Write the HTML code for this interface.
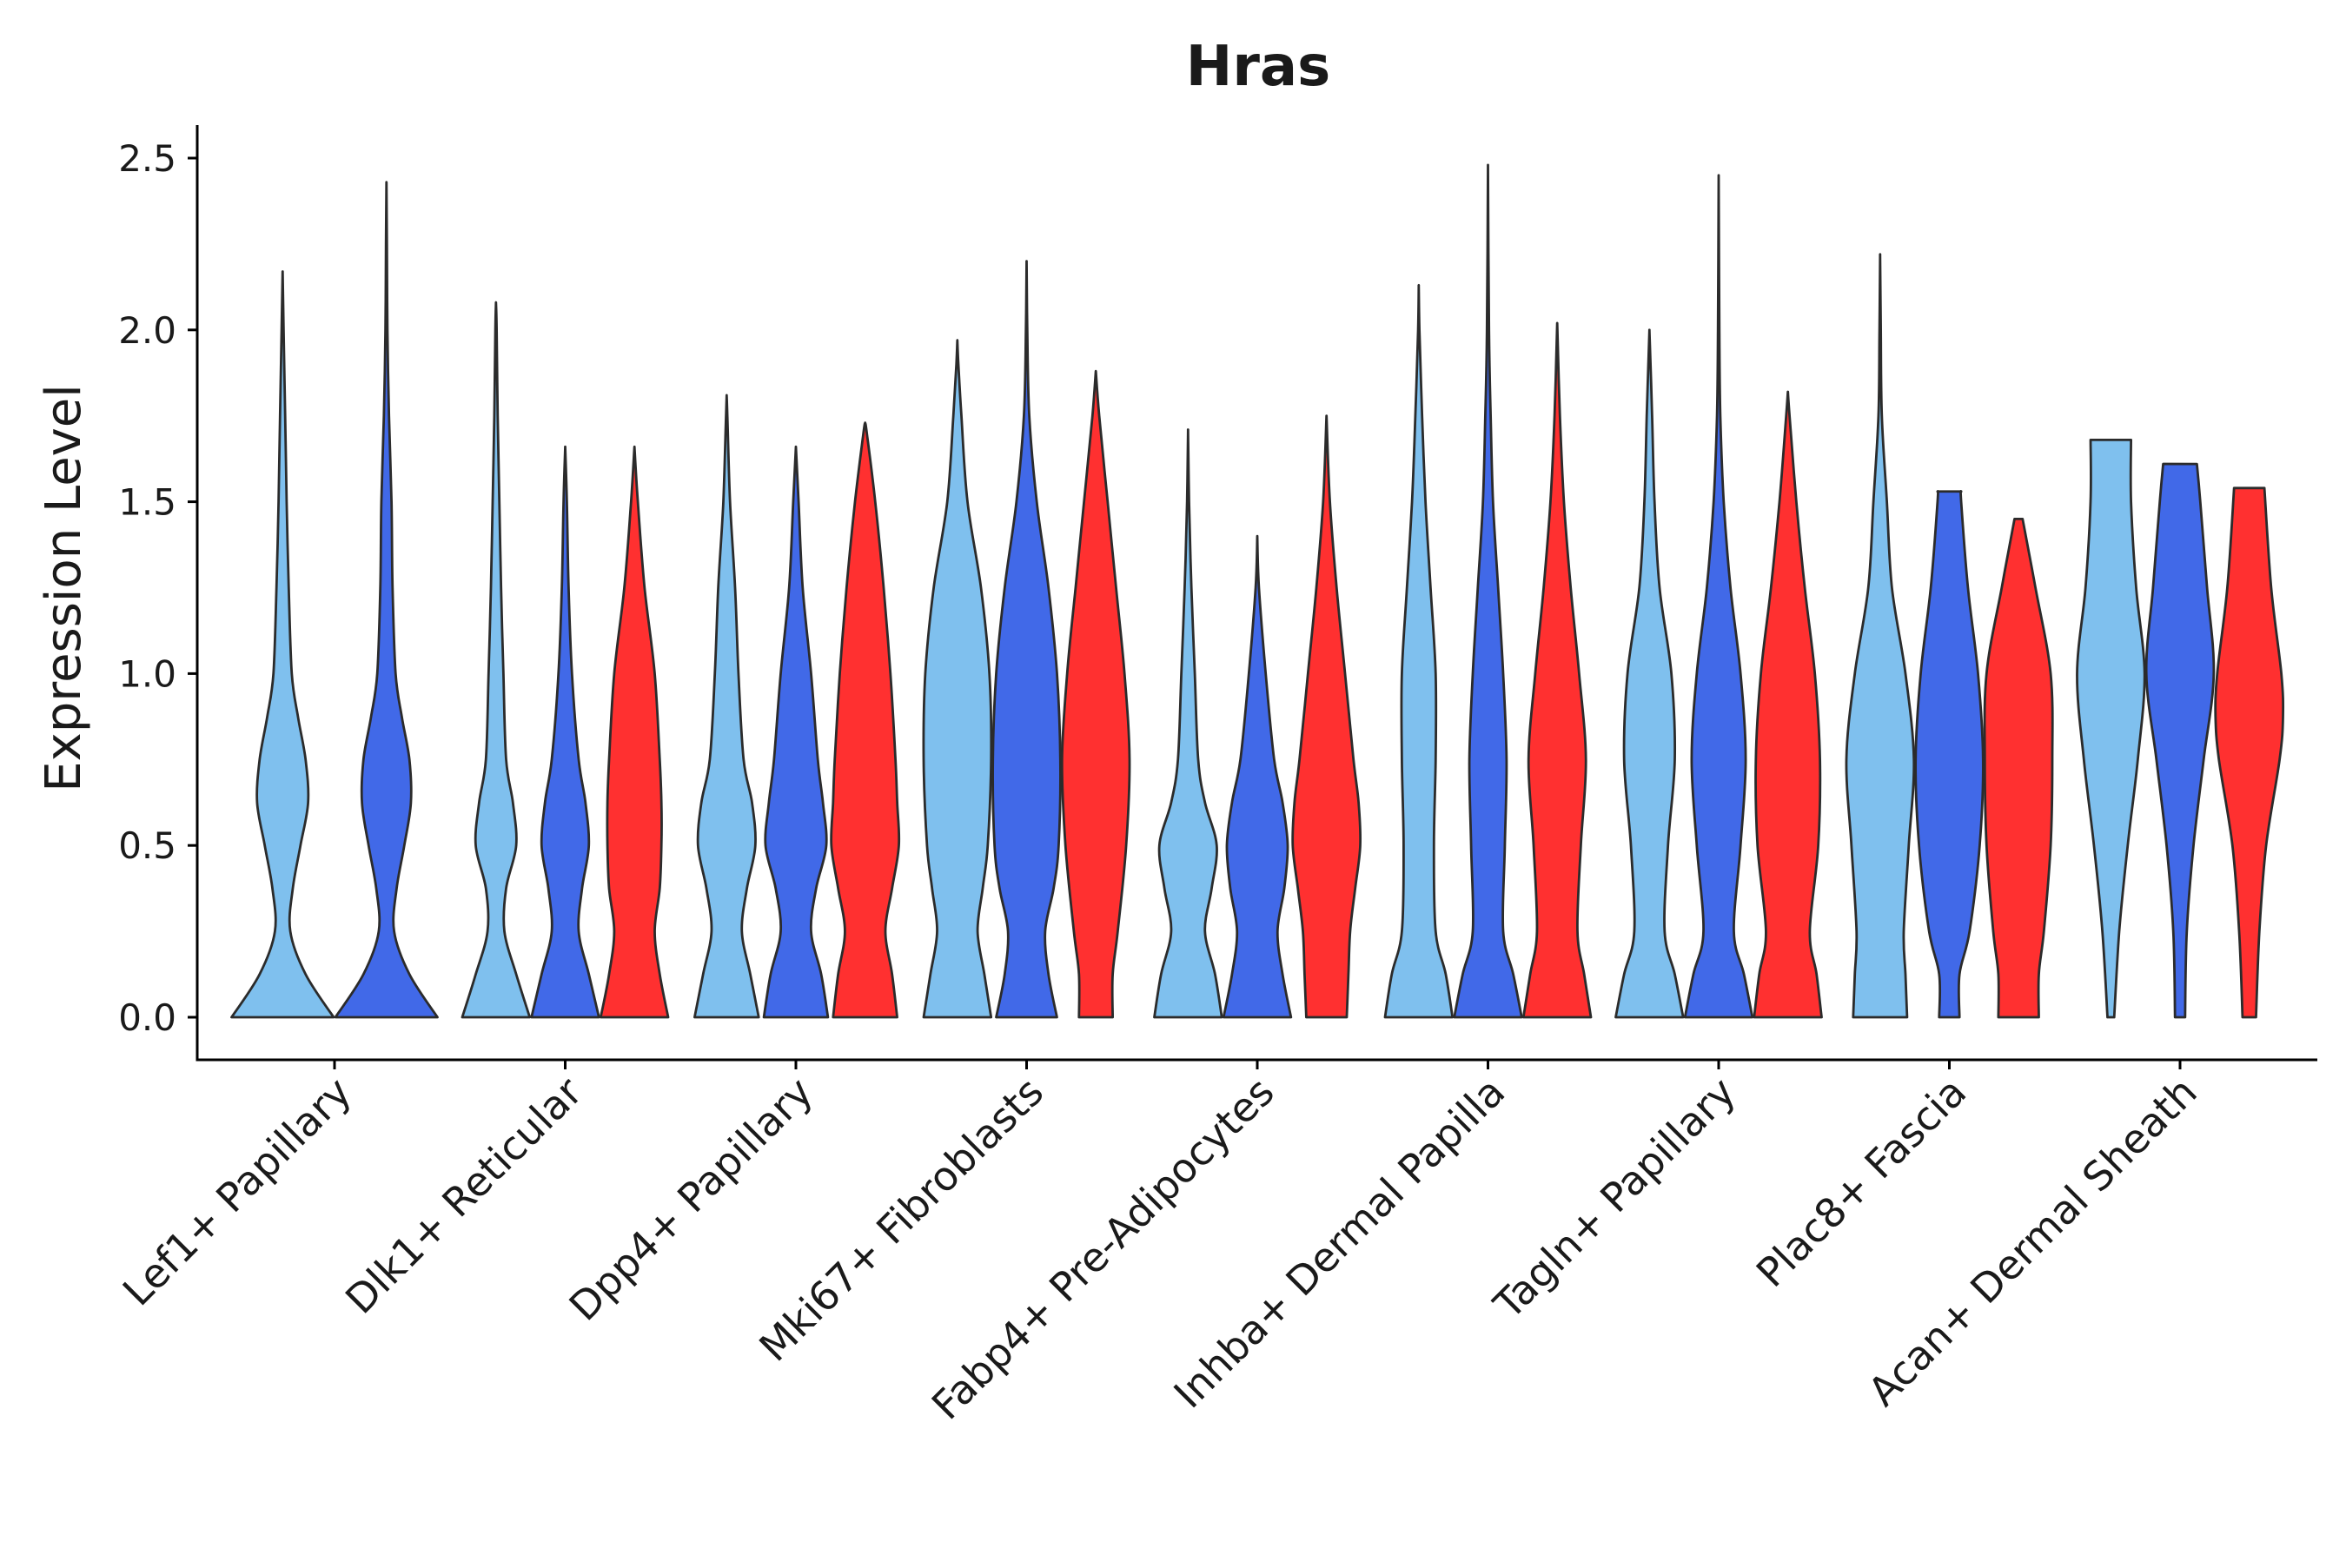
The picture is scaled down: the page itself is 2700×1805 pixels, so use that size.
<!DOCTYPE html>
<html><head><meta charset="utf-8"><style>
html,body{margin:0;padding:0;background:#fff;}
svg text{font-family:"DejaVu Sans","Liberation Sans",sans-serif;fill:#1a1a1a;}
</style></head><body>
<svg id="chart" width="2700" height="1800" viewBox="0 0 2700 1800" xmlns="http://www.w3.org/2000/svg">
<text x="1448" y="98" text-anchor="middle" font-size="64" font-weight="bold">Hras</text>
<text transform="translate(92,677) rotate(-90)" text-anchor="middle" font-size="56">Expression Level</text>
<g id="plot"></g>
</svg>
<script>
const categories = ["Lef1+ Papillary","Dlk1+ Reticular","Dpp4+ Papillary","Mki67+ Fibroblasts","Fabp4+ Pre-Adipocytes","Inhba+ Dermal Papilla","Tagln+ Papillary","Plac8+ Fascia","Acan+ Dermal Sheath"];
const yTicks = [0, 0.5, 1.0, 1.5, 2.0, 2.5];
const yTickLabels = ["0.0","0.5","1.0","1.5","2.0","2.5"];
const seriesNames = ["light","blue","red"];
const seriesColors = ["#7FC0EE","#4169E8","#FF3030"];
const violinCat = [0,0,1,1,1,2,2,2,3,3,3,4,4,4,5,5,5,6,6,6,7,7,7,8,8,8];
const violinSeries = [0,1,0,1,2,0,1,2,0,1,2,0,1,2,0,1,2,0,1,2,0,1,2,0,1,2];
const violinY = [
 [0,.125,.25,.375,.5,.625,.75,.875,1,1.25,1.5,1.75,2,2.17],
 [0,.125,.25,.375,.5,.625,.75,.875,1,1.25,1.5,1.75,2,2.25,2.43],
 [0,.125,.25,.375,.5,.625,.75,1,1.25,1.5,1.75,2,2.08],
 [0,.125,.25,.375,.5,.625,.75,1,1.25,1.5,1.66],
 [0,.125,.25,.375,.5,.625,.75,1,1.25,1.5,1.66],
 [0,.125,.25,.375,.5,.625,.75,1,1.25,1.5,1.75,1.81],
 [0,.125,.25,.375,.5,.625,.75,1,1.25,1.5,1.66],
 [0,.125,.25,.375,.5,.625,.75,1,1.25,1.5,1.7,1.73],
 [0,.125,.25,.375,.5,.75,1,1.25,1.5,1.75,1.9,1.97],
 [0,.125,.25,.375,.5,.75,1,1.25,1.5,1.75,2,2.2],
 [0,.125,.25,.5,.75,1,1.25,1.5,1.75,1.88],
 [0,.125,.25,.375,.5,.625,.75,1,1.25,1.5,1.71],
 [0,.125,.25,.375,.5,.625,.75,1,1.25,1.4],
 [0,.125,.25,.375,.5,.625,.75,1,1.25,1.5,1.75],
 [0,.125,.25,.5,.75,1,1.25,1.5,1.75,2,2.13],
 [0,.125,.25,.5,.75,1,1.25,1.5,1.75,2,2.48],
 [0,.125,.25,.5,.75,1,1.25,1.5,1.75,2.02],
 [0,.125,.25,.5,.75,1,1.25,1.5,1.75,2.0],
 [0,.125,.25,.5,.75,1,1.25,1.5,1.75,2,2.45],
 [0,.125,.25,.5,.75,1,1.25,1.5,1.75,1.82],
 [0,.125,.25,.5,.75,1,1.25,1.5,1.75,2,2.22],
 [0,.125,.25,.5,.75,1,1.25,1.5,1.53],
 [0,.125,.25,.5,.75,1,1.25,1.45],
 [0,.25,.5,.75,1,1.25,1.5,1.68],
 [0,.25,.5,.75,1,1.25,1.5,1.61],
 [0,.25,.5,.75,.875,1,1.25,1.54]
];
const violinW = [
 [1,.45,.15,.2,.35,.5,.45,.3,.18,.12,.08,.05,.02,0],
 [1,.45,.15,.2,.35,.48,.45,.3,.18,.12,.1,.05,.02,.01,0],
 [1,.6,.25,.3,.6,.5,.3,.22,.15,.1,.05,.02,0],
 [1,.7,.4,.5,.7,.6,.4,.2,.1,.05,0],
 [1,.75,.6,.75,.8,.8,.75,.6,.3,.1,0],
 [.95,.7,.45,.6,.85,.75,.5,.35,.25,.1,.02,0],
 [.95,.75,.45,.6,.9,.8,.65,.45,.2,.08,0],
 [.95,.8,.6,.8,1,.95,.9,.75,.55,.3,.05,0],
 [1,.8,.6,.75,.9,1,.95,.7,.3,.12,.03,0],
 [.9,.65,.55,.8,.95,1,.9,.65,.3,.08,.02,0],
 [.5,.5,.65,.9,1,.85,.6,.35,.1,0],
 [1,.8,.5,.7,.85,.5,.3,.2,.1,.03,0],
 [1,.75,.6,.8,.9,.75,.5,.25,.05,0],
 [.6,.65,.7,.85,1,.95,.8,.55,.3,.1,0],
 [1,.8,.5,.45,.5,.5,.35,.2,.1,.02,0],
 [1,.75,.45,.5,.55,.45,.3,.15,.08,.03,0],
 [1,.8,.6,.7,.85,.65,.4,.2,.08,0],
 [1,.75,.45,.55,.75,.65,.3,.15,.08,0],
 [1,.75,.45,.65,.8,.65,.35,.15,.05,.02,0],
 [1,.85,.65,.9,.95,.8,.5,.25,.05,0],
 [.8,.75,.7,.85,1,.75,.35,.2,.05,.02,0],
 [.3,.3,.6,.9,1,.85,.55,.35,.35],
 [.6,.6,.75,.95,1,.95,.5,.12],
 [.1,.25,.5,.8,1,.75,.6,.6],
 [.15,.2,.4,.7,1,.8,.6,.5],
 [.2,.3,.5,.9,1,.95,.65,.45]
];

const NS="http://www.w3.org/2000/svg";
const plot=document.getElementById('plot');
const x0=227, x1=2667, yTop=144, yAxisBase=1220;
const yScale=v=>1171 - v*395.6;
const xScale=i=>385 + i*265.5;
function el(tag,attrs){const e=document.createElementNS(NS,tag);for(const k in attrs)e.setAttribute(k,attrs[k]);return e;}

const perCat=categories.map((c,i)=>violinCat.filter(v=>v===i).length);

function smoothPath(pts){
  let d="";
  for(let i=0;i<pts.length-1;i++){
    const p0=pts[Math.max(i-1,0)],p1=pts[i],p2=pts[i+1],p3=pts[Math.min(i+2,pts.length-1)];
    const c1=[p1[0]+(p2[0]-p0[0])/6,p1[1]+(p2[1]-p0[1])/6];
    const c2=[p2[0]-(p3[0]-p1[0])/6,p2[1]-(p3[1]-p1[1])/6];
    d+=` C${c1[0].toFixed(1)},${c1[1].toFixed(1)} ${c2[0].toFixed(1)},${c2[1].toFixed(1)} ${p2[0].toFixed(1)},${p2[1].toFixed(1)}`;
  }
  return d;
}

violinCat.forEach((ci,k)=>{
  const n=perCat[ci];
  const slot=239/n;
  const si=violinSeries[k];
  const pos = n===3 ? si : (si===0?0:1);
  const cx=xScale(ci)-119.5+slot*(pos+0.5);
  const hw=slot/2-1;
  const ys=violinY[k], ws=violinW[k];
  const right=ys.map((y,i)=>[cx+ws[i]*hw,yScale(y)]);
  const left=ys.map((y,i)=>[cx-ws[i]*hw,yScale(y)]).reverse();
  let d=`M${cx},${yScale(ys[0])} L${right[0][0]},${right[0][1]}`+smoothPath(right);
  d+=` L${left[0][0]},${left[0][1]}`+smoothPath(left)+" Z";
  const p=el('path',{d:d,fill:seriesColors[si],stroke:'#2b2b2b','stroke-width':2.8,'stroke-linejoin':'round'});
  
  
  plot.appendChild(p);
});

const ax=el('line',{x1:x0,y1:yTop,x2:x0,y2:yAxisBase,stroke:'#000','stroke-width':3});


plot.appendChild(ax);
const bx=el('line',{x1:x0-1.5,y1:yAxisBase,x2:x1,y2:yAxisBase,stroke:'#000','stroke-width':3});


plot.appendChild(bx);

yTicks.forEach((v,i)=>{
  const y=yScale(v);
  const t=el('line',{x1:x0-11,y1:y,x2:x0,y2:y,stroke:'#000','stroke-width':3});
  
  
  plot.appendChild(t);
  const tx=el('text',{x:x0-24,y:y+15,'text-anchor':'end','font-size':42});
  tx.textContent=yTickLabels[i];
  
  
  plot.appendChild(tx);
});

categories.forEach((c,i)=>{
  const x=xScale(i);
  const t=el('line',{x1:x,y1:yAxisBase,x2:x,y2:yAxisBase+11,stroke:'#000','stroke-width':3});
  
  
  plot.appendChild(t);
  const tx=el('text',{transform:`translate(${x+22},${yAxisBase+40}) rotate(-45)`,'text-anchor':'end','font-size':46});
  tx.textContent=c;
  
  
  plot.appendChild(tx);
});
</script>
</body></html>
